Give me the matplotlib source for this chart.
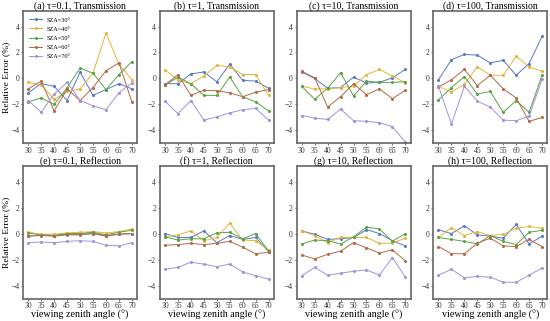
import matplotlib.pyplot as plt
import numpy as np

plt.rcParams['font.family'] = ['Liberation Serif', 'DejaVu Serif']

vza = [30, 35, 40, 45, 50, 55, 60, 65, 70]
sza_labels = ['SZA=30°', 'SZA=40°', 'SZA=50°', 'SZA=60°', 'SZA=70°']
colors = ['#5a78c8', '#e3b63a', '#5aa346', '#b36a45', '#a293da']

titles = ['(a) τ=0.1, Transmission', '(b) τ=1, Transmission',
          '(c) τ=10, Transmission', '(d) τ=100, Transmission',
          '(e) τ=0.1, Reflection', '(f) τ=1, Reflection',
          '(g) τ=10, Reflection', '(h) τ=100, Reflection']

# relative error (%), one list per SZA, per panel
err_a = [[-1.1, -0.4, -0.6, -1.7, 0.5, -1.3, -0.85, -0.4, -0.8],
         [-0.3, -0.5, -1.6, -1.0, -0.8, 0.4, 3.5, 1.1, -0.1],
         [-1.8, -1.5, -2.0, -0.7, 0.8, 0.4, -0.85, 0.3, 1.3],
         [-0.8, -0.2, -2.5, -0.8, -1.7, -0.7, 0.6, 1.2, -1.8],
         [-1.7, -2.6, -1.2, -0.3, -1.7, -2.1, -2.4, -1.1, -0.35]]
err_b = [[-0.4, -0.4, 0.35, 0.5, -0.25, 1.1, -0.15, -0.2, -0.75],
         [0.65, -0.1, -0.4, 0.2, 1.0, 0.9, 0.3, 0.3, -1.3],
         [-0.5, 0.1, -0.4, -1.3, -1.3, 0.1, -1.4, -1.8, -2.5],
         [-0.5, 0.3, -1.3, -0.9, -0.95, -1.1, -1.4, -1.05, -0.85],
         [-1.75, -2.7, -1.7, -3.2, -2.95, -2.65, -2.4, -2.3, -3.2]]
err_c = [[0.5, 0.0, -0.75, -0.7, 0.1, -0.35, -0.3, 0.05, 0.7],
         [-0.6, -0.8, -0.8, -0.7, -0.6, 0.3, 0.7, 0.2, -0.35],
         [-0.6, -1.6, -0.75, 0.45, -1.35, -0.2, -0.3, -0.3, -0.25],
         [0.55, 0.05, -2.2, -1.4, -0.4, -1.25, -0.8, -1.55, -0.9],
         [-2.85, -3.05, -3.15, -2.35, -3.25, -3.3, -3.4, -3.7, -4.9]]
err_d = [[-0.1, 1.45, 1.85, 1.8, 1.2, 1.4, 0.25, 1.15, 3.25],
         [-0.6, -1.05, -0.45, 0.9, 0.25, 0.25, 1.7, 0.9, 0.55],
         [-1.65, -0.7, 0.15, -1.2, -1.0, -2.6, -1.7, -2.6, 0.25],
         [-0.65, -0.1, 0.7, -0.55, 0.25, -0.8, -1.5, -3.3, -3.0],
         [-0.6, -3.5, -0.6, -1.75, -2.2, -3.2, -3.25, -2.9, -0.05]]
err_e = [[-0.2, -0.1, -0.15, -0.05, -0.05, 0.0, -0.2, -0.05, 0.0],
         [0.1, -0.05, -0.05, 0.05, 0.1, 0.15, 0.05, 0.15, 0.35],
         [0.05, -0.1, -0.15, 0.0, 0.0, 0.1, -0.1, 0.1, 0.25],
         [-0.2, -0.15, -0.2, -0.1, -0.1, 0.0, -0.15, -0.05, 0.0],
         [-0.7, -0.65, -0.7, -0.6, -0.55, -0.6, -0.9, -0.95, -0.7]]
err_f = [[0.0, -0.3, -0.3, 0.2, -0.7, -0.15, -0.45, -0.3, -1.4],
         [-0.25, -0.1, 0.2, -0.55, -0.3, 0.8, -0.5, -0.55, -1.3],
         [-0.25, -0.5, -0.4, -0.4, 0.05, 0.1, -0.4, 0.0, -1.35],
         [-0.9, -0.85, -0.75, -0.85, -0.75, -0.6, -1.05, -1.55, -1.45],
         [-2.75, -2.6, -2.2, -2.35, -2.55, -2.35, -2.95, -3.25, -3.5]]
err_g = [[0.2, -0.05, -0.45, -0.4, -0.3, 0.3, 0.0, -0.55, -0.95],
         [0.2, -0.15, -0.7, -0.3, -0.3, -0.3, -0.75, -0.75, -0.35],
         [-0.8, -0.5, -0.55, -0.8, -0.25, 0.5, 0.35, -0.6, 0.0],
         [-1.65, -1.95, -1.6, -1.35, -0.7, -1.1, -1.5, -1.25, -2.1],
         [-3.25, -2.6, -3.2, -3.05, -2.9, -2.8, -3.2, -1.85, -3.35]]
err_h = [[0.3, 0.0, 0.6, -0.1, -0.2, -0.35, 0.7, -0.8, -0.2],
         [-0.3, 0.45, -0.15, 0.15, -0.15, -0.05, 0.4, 0.55, 0.4],
         [-0.3, -0.45, -0.6, -0.8, -0.15, -0.6, -0.85, 0.1, 0.25],
         [-1.0, -1.55, -1.55, -0.75, -0.35, -0.95, -1.0, -0.45, -1.0],
         [-3.2, -2.75, -3.4, -3.3, -3.35, -3.75, -3.75, -3.2, -2.65]]

panels = [err_a, err_b, err_c, err_d, err_e, err_f, err_g, err_h]

fig, axes = plt.subplots(2, 4, figsize=(5.5, 3.21), dpi=100)
fig.subplots_adjust(left=0.042, right=0.995, top=0.966, bottom=0.07,
                    wspace=0.2, hspace=0.17)

for i, ax in enumerate(axes.flat):
    for k in range(5):
        ax.plot(vza, panels[i][k], color=colors[k], lw=0.7, marker='o',
                ms=1.2, label=sza_labels[k])
    ax.set_ylim(-5, 5.2)
    ax.set_yticks([-4, -2, 0, 2, 4])
    ax.set_xticks(vza)
    ax.tick_params(labelsize=5.5, length=1.2, width=0.5, pad=1.5,
                   colors='#333333')
    for s in ax.spines.values():
        s.set_color('#666666')
        s.set_linewidth(1.2)
    ax.set_title(titles[i], fontsize=7, pad=1.5)
    if i % 4 == 0:
        ax.set_ylabel('Relative Error (%)', fontsize=6.8, labelpad=0.5)
    if i >= 4:
        ax.set_xlabel('viewing zenith angle (°)', fontsize=7.2, labelpad=0)

axes[0, 0].legend(loc='upper left', fontsize=4.5, frameon=False,
                  handlelength=2, borderpad=0.5, labelspacing=0.6)

fig.savefig('out.png', dpi=100)
